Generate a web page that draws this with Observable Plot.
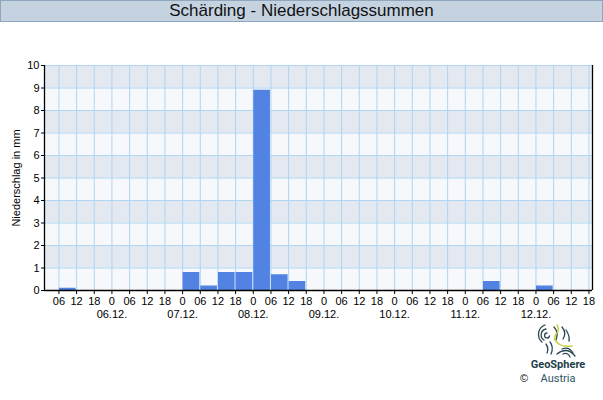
<!DOCTYPE html>
<html>
<head>
<meta charset="utf-8">
<script src="https://cdn.jsdelivr.net/npm/d3@7"></script>
<script src="https://cdn.jsdelivr.net/npm/@observablehq/plot@0.6"></script>
<style>
  html, body { margin: 0; padding: 0; background: #fff; width: 603px; height: 400px; overflow: hidden; font-family: "Liberation Sans", Arial, sans-serif; }
  #title { box-sizing: border-box; width: 603px; height: 22px; background: #c5d3e1; border: 1px solid #8fa6bf; text-align: center; font-size: 17px; line-height: 20px; color: #111; }
  #chart { position: absolute; left: 0; top: 22px; }
  #logo { position: absolute; left: 500px; top: 318px; }
</style>
</head>
<body>
<div id="title">Schärding - Niederschlagssummen</div>
<div id="chart"></div>
<svg id="logo" width="103" height="82" viewBox="0 0 103 82">
  <g fill="none" stroke="#2a4654" stroke-width="1.3" stroke-linecap="round">
    <path d="M47 15 a2.5 2.5 0 1 0 2.5 3"/>
    <path d="M46 11 a6 6 0 0 0 -2 11"/>
    <path d="M45 7 a10 10 0 0 0 -3 17"/>
    <path d="M46 26 q3 4 1 9"/>
    <path d="M50 24 q4 5 1 12"/>
    <path d="M54 9 q5 5 2 13"/>
    <path d="M62 9 q5 6 1 12"/>
    <path d="M66 12 q4 6 3 11"/>
    <path d="M62 31 q7 -3 11 4"/>
    <path d="M63 36 q5 -2 7 3"/>
    <path d="M57 36 q10 -8 18 2"/>
  </g>
  <path d="M57 7 q3 5 -1 9 q-4 6 3 10 q4 3 13 2" fill="none" stroke="#c5d144" stroke-width="1.5" stroke-linecap="round"/>
  <text x="58" y="50" text-anchor="middle" font-family="Roboto, 'Liberation Sans', sans-serif" font-size="11" font-weight="bold" fill="#24404d">GeoSphere</text>
  <text x="58" y="64" text-anchor="middle" font-family="Roboto, 'Liberation Sans', sans-serif" font-size="11" fill="#2d5563">Austria</text>
  <text x="24" y="64" text-anchor="middle" font-family="'Liberation Sans', sans-serif" font-size="11" fill="#111">©</text>
</svg>
<script>
// Bars: start hour counted from 05.12. 00:00, each bar spans 6 hours
const barStartHour = [6, 48, 54, 60, 66, 72, 78, 84, 150, 168];
const precipMm     = [0.1, 0.8, 0.2, 0.8, 0.8, 8.9, 0.7, 0.4, 0.4, 0.2];
const barHours = 6;

// Axis tick labels
const hourTicks = d3.range(6, 187, 6);
const hourLabels = {0: "0", 6: "06", 12: "12", 18: "18"};
const dateTicks = [24, 48, 72, 96, 120, 144, 168];
const dateLabels = ["06.12.", "07.12.", "08.12.", "09.12.", "10.12.", "11.12.", "12.12."];
const yTicks = [0, 1, 2, 3, 4, 5, 6, 7, 8, 9, 10];
const yLabel = "Niederschlag in mm";

const bars = barStartHour.map((h, i) => ({x1: h, x2: h + barHours, y: precipMm[i]}));
const bands = yTicks.filter(v => v % 2 === 1).map(v => ({y1: v, y2: v + 1}));

const chart = Plot.plot({
  width: 603,
  height: 378,
  marginLeft: 44,
  marginRight: 11,
  marginTop: 43,
  marginBottom: 110,
  style: {fontFamily: "'Liberation Sans', Arial, sans-serif", fontSize: "11px", background: "transparent", color: "#000"},
  x: {domain: [1.1, 187.2], axis: null},
  y: {domain: [0, 10], axis: null},
  marks: [
    Plot.frame({fill: "#f6f8fb"}),
    Plot.rect(bands, {y1: "y1", y2: "y2", fill: "#e4e9f1"}),
    Plot.gridX({ticks: hourTicks, stroke: "#aed5f2", strokeOpacity: 1}),
    Plot.gridY({ticks: yTicks, stroke: "#aed5f2", strokeOpacity: 1}),
    Plot.rectY(bars, {x1: "x1", x2: "x2", y: "y", fill: "#5282e2", insetLeft: 0.5, insetRight: 0.5}),
    Plot.axisY({ticks: yTicks, tickSize: 3, tickPadding: 2, label: yLabel, labelAnchor: "center", labelArrow: "none", labelOffset: 32, stroke: "#000", fill: "#000"}),
    Plot.axisX({ticks: hourTicks, tickFormat: d => hourLabels[d % 24], tickSize: 4, tickPadding: 3, label: null, stroke: "#000", fill: "#000"}),
    Plot.axisX({ticks: dateTicks, tickFormat: d => dateLabels[dateTicks.indexOf(d)], tickSize: 0, tickPadding: 20, label: null, fill: "#000"}),
    Plot.ruleY([0], {stroke: "#000", strokeWidth: 1.3}),
    Plot.ruleX([1.1], {stroke: "#000", strokeWidth: 1.3}),
    Plot.ruleX([187.2], {stroke: "#000", strokeWidth: 1.3})
  ]
});
document.getElementById("chart").appendChild(chart);
</script>
</body>
</html>
